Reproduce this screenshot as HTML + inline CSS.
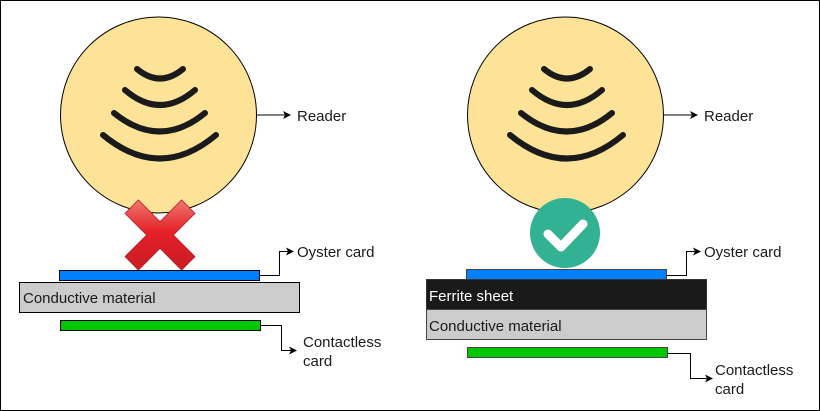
<!DOCTYPE html>
<html><head><style>
body{margin:0;background:#fff}
svg{display:block}
text{font-family:"Liberation Sans",sans-serif;font-size:15px;fill:#1a1a1a}
</style></head><body>
<svg width="820" height="411" viewBox="0 0 820 411" xmlns="http://www.w3.org/2000/svg">
<defs>
<linearGradient id="xg" x1="0" y1="0" x2="0" y2="1"><stop offset="0" stop-color="#f07a6e"/><stop offset="0.45" stop-color="#e52028"/><stop offset="1" stop-color="#c91c24"/></linearGradient>
<marker id="ar" markerWidth="8" markerHeight="8" refX="7" refY="4" orient="auto" markerUnits="userSpaceOnUse"><path d="M0,0 L8,4 L0,8 L2,4z" fill="#000"/></marker>
<g id="reader">
<circle cx="158.5" cy="115" r="98" fill="#fde397" stroke="#000" stroke-width="1"/>
<g fill="none" stroke="#1a1a1a" stroke-width="6" stroke-linecap="round">
<path d="M137,69 Q160,88 183,69"/>
<path d="M125,90 Q160,120 195,90"/>
<path d="M114,113 Q160,150 205,113"/>
<path d="M103,135 Q160,182 216,135"/>
</g>
<path d="M257,115 H290" stroke="#000" marker-end="url(#ar)"/>
<text x="297" y="121">Reader</text>
</g>
</defs>
<rect x="0.5" y="0.5" width="819" height="410" fill="#fff" stroke="#000"/>
<use href="#reader"/>
<use href="#reader" x="407"/>
<!-- X -->
<path d="M125,213.4 L138.4,200 L160,221.6 L181.6,200 L195,213.4 L173.4,235 L195,256.6 L181.6,270 L160,248.4 L138.4,270 L125,256.6 L146.6,235 Z" fill="url(#xg)" stroke="#b51a20" stroke-width="0.8"/>
<!-- left stack -->
<rect x="59.5" y="270.5" width="200" height="10" fill="#007fff" stroke="#000"/>
<rect x="19.5" y="282.5" width="280" height="30" fill="#cccccc" stroke="#000"/>
<text x="23" y="303">Conductive material</text>
<rect x="60.5" y="320.5" width="200" height="10" fill="#00c800" stroke="#000"/>
<path d="M259,275.5 H279.5 V251.5 H293" fill="none" stroke="#000" marker-end="url(#ar)"/>
<text x="297" y="257">Oyster card</text>
<path d="M260,325.5 H281.5 V350.5 H296" fill="none" stroke="#000" marker-end="url(#ar)"/>
<text x="303" y="347">Contactless</text>
<text x="303" y="366">card</text>
<!-- check -->
<circle cx="565" cy="233" r="35" fill="#33b193"/>
<path d="M548,234 L561,247 L583,224" fill="none" stroke="#fff" stroke-width="9" stroke-linecap="round" stroke-linejoin="round"/>
<!-- right stack -->
<rect x="466.5" y="269.5" width="200" height="10" fill="#007fff" stroke="#444"/>
<rect x="426.5" y="279.5" width="280" height="30" fill="#1a1a1a" stroke="#333"/>
<text x="429" y="301" style="fill:#fff">Ferrite sheet</text>
<rect x="426.5" y="309.5" width="280" height="30" fill="#cccccc" stroke="#444"/>
<text x="429" y="331">Conductive material</text>
<rect x="467.5" y="347.5" width="200" height="10" fill="#00c800" stroke="#444"/>
<path d="M666,275.5 H686.5 V251.5 H700" fill="none" stroke="#000" marker-end="url(#ar)"/>
<text x="704" y="257">Oyster card</text>
<path d="M667,353.5 H690.5 V378.5 H712" fill="none" stroke="#000" marker-end="url(#ar)"/>
<text x="715" y="375">Contactless</text>
<text x="715" y="394">card</text>
</svg>
</body></html>
